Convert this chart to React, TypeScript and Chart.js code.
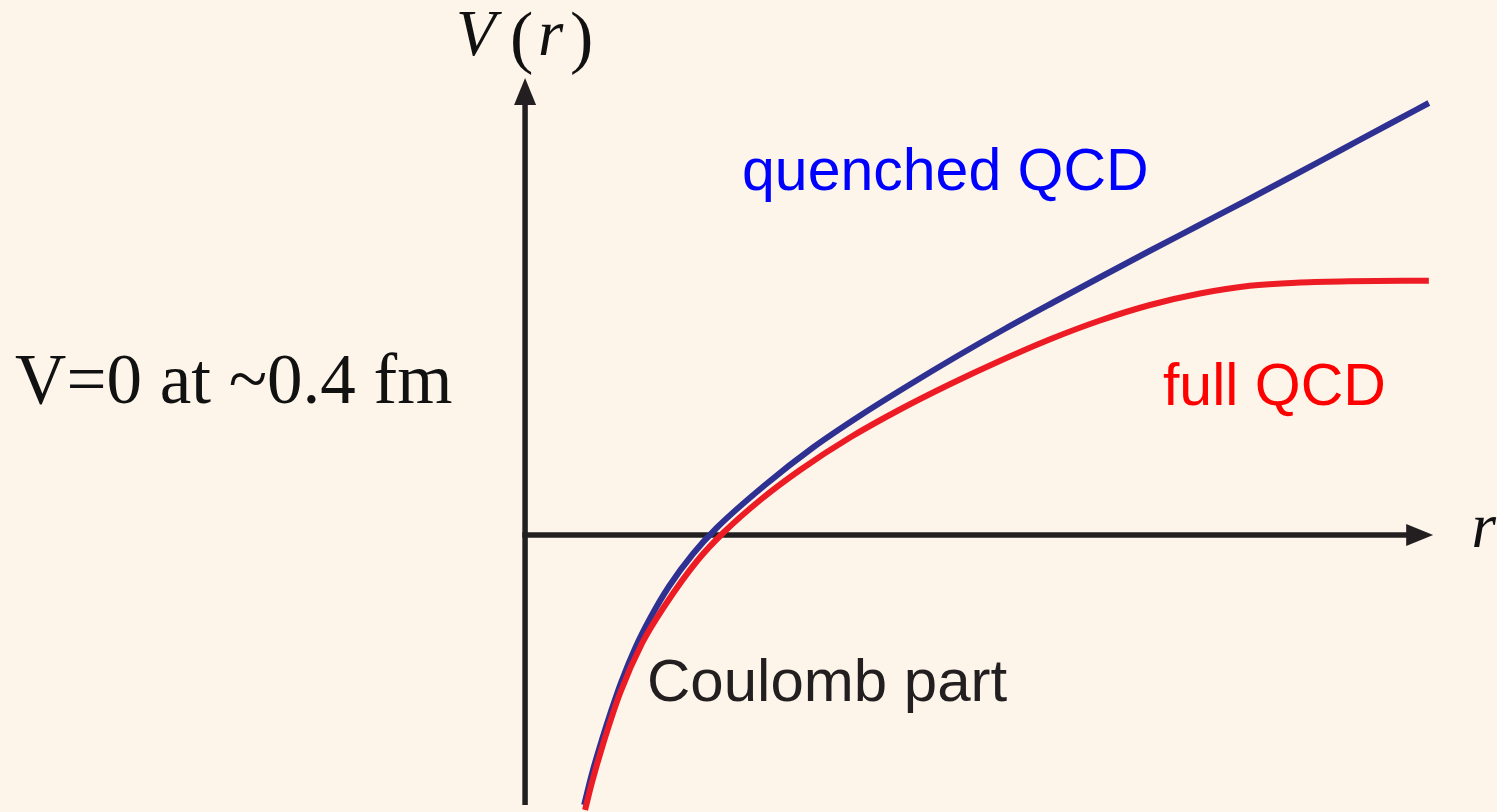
import React, { useEffect, useRef } from "react";
import { Chart, registerables } from "chart.js";

Chart.register(...registerables);

// ---- Data (r in fm, V in arbitrary units) ----
const quenchedR = [0.123, 0.14, 0.16, 0.18, 0.2, 0.23, 0.26, 0.3, 0.35, 0.4, 0.5, 0.6, 0.7, 0.8, 0.9, 1.0, 1.1, 1.2, 1.3, 1.4, 1.5, 1.6, 1.7, 1.8, 1.883];
const quenchedV = [-1.08, -0.95, -0.82, -0.7, -0.59, -0.45, -0.335, -0.205, -0.075, 0.03, 0.2, 0.35, 0.48, 0.6, 0.715, 0.825, 0.93, 1.033, 1.135, 1.235, 1.335, 1.437, 1.54, 1.643, 1.728];

const fullR = [0.125, 0.1396, 0.16, 0.198, 0.244, 0.292, 0.36, 0.4125, 0.49, 0.573, 0.677, 0.781, 0.885, 0.99, 1.094, 1.198, 1.302, 1.406, 1.51, 1.615, 1.719, 1.883];
const fullV = [-1.1, -0.988, -0.852, -0.632, -0.432, -0.28, -0.1, 0.008, 0.14, 0.26, 0.39, 0.502, 0.603, 0.697, 0.783, 0.858, 0.92, 0.966, 0.997, 1.01, 1.015, 1.017];

const seriesNames = ["full QCD", "quenched QCD"];

// ---- Layout / styles ----
const W = 1497;
const H = 812;
const BG = "#FDF5EA";
const BLUE_LINE = "#2E3192";
const RED_LINE = "#ED1C24";
const AXIS_COLOR = "#231F20";

const X_MIN = -1.094;
const X_MAX = 2.025;
const Y_MIN = -1.108;
const Y_MAX = 2.14;

const AXIS_R_TIP = 1.892;
const AXIS_V_TIP = 1.828;
const AXIS_V_BOTTOM = -1.08;

type Label = {
  text: string;
  r: number;
  v: number;
  font: string;
  color: string;
};

const labels: Label[] = [
  { text: "quenched QCD", r: 0.452, v: 1.38, font: '59px "Liberation Sans", Arial, sans-serif', color: "#0000FF" },
  { text: "full QCD", r: 1.329, v: 0.52, font: '59px "Liberation Sans", Arial, sans-serif', color: "#FF0000" },
  { text: "Coulomb part", r: 0.254, v: -0.664, font: '60px "Liberation Sans", Arial, sans-serif', color: "#231F20" },
  { text: "V=0 at ~0.4 fm", r: -1.0625, v: 0.528, font: '71px "Liberation Serif", "Times New Roman", serif', color: "#111111" },
];

const toPoints = (xs: number[], ys: number[]) => xs.map((x, i) => ({ x, y: ys[i] }));

const arrowAxesPlugin = {
  id: "arrowAxes",
  beforeDatasetsDraw(chart: any) {
    const { ctx } = chart;
    const xs = chart.scales.x;
    const ys = chart.scales.y;
    const x0 = xs.getPixelForValue(0);
    const y0 = ys.getPixelForValue(0);
    const xEnd = xs.getPixelForValue(AXIS_R_TIP);
    const yTop = ys.getPixelForValue(AXIS_V_TIP);
    const yBot = ys.getPixelForValue(AXIS_V_BOTTOM);
    const len = 27;
    const half = 11;
    ctx.save();
    ctx.strokeStyle = AXIS_COLOR;
    ctx.fillStyle = AXIS_COLOR;
    ctx.lineWidth = 5.5;
    ctx.lineCap = "butt";
    // horizontal axis
    ctx.beginPath();
    ctx.moveTo(x0 - 2.75, y0);
    ctx.lineTo(xEnd - len + 2, y0);
    ctx.stroke();
    ctx.beginPath();
    ctx.moveTo(xEnd, y0);
    ctx.lineTo(xEnd - len, y0 - half);
    ctx.lineTo(xEnd - len, y0 + half);
    ctx.closePath();
    ctx.fill();
    // vertical axis
    ctx.beginPath();
    ctx.moveTo(x0, yBot);
    ctx.lineTo(x0, yTop + len - 2);
    ctx.stroke();
    ctx.beginPath();
    ctx.moveTo(x0, yTop);
    ctx.lineTo(x0 - half, yTop + len);
    ctx.lineTo(x0 + half, yTop + len);
    ctx.closePath();
    ctx.fill();
    ctx.restore();
  },
};

const labelsPlugin = {
  id: "textLabels",
  afterDatasetsDraw(chart: any) {
    const { ctx } = chart;
    const xs = chart.scales.x;
    const ys = chart.scales.y;
    ctx.save();
    ctx.textBaseline = "alphabetic";
    ctx.textAlign = "left";
    for (const l of labels) {
      ctx.font = l.font;
      ctx.fillStyle = l.color;
      ctx.fillText(l.text, xs.getPixelForValue(l.r), ys.getPixelForValue(l.v));
    }
    // V(r) axis title
    const serif = '"Liberation Serif", "Times New Roman", serif';
    const bx = xs.getPixelForValue(-0.14);
    const by = ys.getPixelForValue(1.92);
    ctx.fillStyle = "#111111";
    ctx.font = `italic 65px ${serif}`;
    ctx.fillText("V", bx - 2, by);
    ctx.font = `70px ${serif}`;
    ctx.fillText("(", bx + 52, by + 5);
    ctx.font = `italic 65px ${serif}`;
    ctx.fillText("r", bx + 80, by);
    ctx.font = `70px ${serif}`;
    ctx.fillText(")", bx + 112, by + 5);
    // r axis title
    ctx.font = `italic 63px ${serif}`;
    ctx.fillText("r", xs.getPixelForValue(1.972), ys.getPixelForValue(-0.048));
    ctx.restore();
  },
};

export default function App() {
  const canvasRef = useRef<HTMLCanvasElement | null>(null);

  useEffect(() => {
    const canvas = canvasRef.current;
    if (!canvas) return;
    const chart = new Chart(canvas, {
      type: "line",
      data: {
        datasets: [
          {
            label: seriesNames[0],
            data: toPoints(fullR, fullV),
            borderColor: RED_LINE,
            borderWidth: 6,
            pointRadius: 0,
            fill: false,
            cubicInterpolationMode: "monotone",
          },
          {
            label: seriesNames[1],
            data: toPoints(quenchedR, quenchedV),
            borderColor: BLUE_LINE,
            borderWidth: 6,
            pointRadius: 0,
            fill: false,
            cubicInterpolationMode: "monotone",
          },
        ],
      },
      options: {
        responsive: false,
        animation: false,
        devicePixelRatio: 1,
        layout: { padding: 0 },
        plugins: {
          legend: { display: false },
          tooltip: { enabled: false },
        },
        scales: {
          x: { type: "linear", min: X_MIN, max: X_MAX, display: false },
          y: { type: "linear", min: Y_MIN, max: Y_MAX, display: false },
        },
      },
      plugins: [arrowAxesPlugin, labelsPlugin],
    });
    return () => chart.destroy();
  }, []);

  return (
    <div style={{ position: "fixed", left: 0, top: 0, width: W, height: H, background: BG, overflow: "hidden" }}>
      <canvas ref={canvasRef} width={W} height={H} style={{ display: "block" }} />
    </div>
  );
}
